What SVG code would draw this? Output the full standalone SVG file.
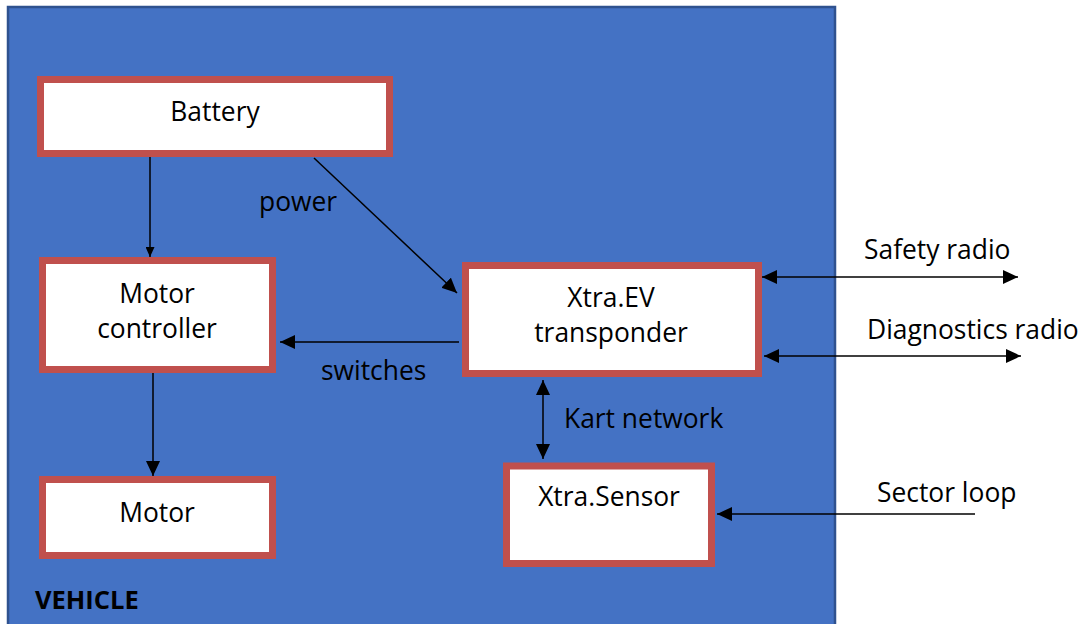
<svg xmlns="http://www.w3.org/2000/svg" width="1083" height="624" viewBox="0 0 1083 624">
<style>
.box{fill:#ffffff;stroke:#c0504d;stroke-width:7}
.t{font-family:"Open Sans","Noto Sans",sans-serif;font-size:26.4px;fill:#000}
.c{text-anchor:middle}
.ln{stroke:#000;stroke-width:1.5;fill:none}
</style>
<defs>
<marker id="ah" markerUnits="userSpaceOnUse" markerWidth="16" markerHeight="14" refX="15" refY="7" orient="auto-start-reverse">
<path d="M0,0 L15,7 L0,14 Z" fill="#000"/>
</marker>
<marker id="ahs" markerUnits="userSpaceOnUse" markerWidth="11" markerHeight="9" refX="10" refY="4.5" orient="auto-start-reverse">
<path d="M0,0 L10,4.5 L0,9 Z" fill="#000"/>
</marker>
</defs>
<rect width="1083" height="624" fill="#ffffff"/>
<g id="vehicle">
<rect x="8" y="7" width="827" height="640" fill="#4472c4" stroke="#2f528f" stroke-width="2.5"/>
<text x="35" y="609" class="t" style="font-weight:bold;font-size:25.5px">VEHICLE</text>
</g>
<g id="battery">
<rect class="box" x="40.5" y="79.5" width="349" height="74"/>
<text class="t c" x="215" y="121">Battery</text>
</g>
<g id="motor-controller">
<rect class="box" x="42.5" y="260.5" width="230" height="109"/>
<text class="t c" x="157" y="303">Motor</text>
<text class="t c" x="157" y="338">controller</text>
</g>
<g id="motor">
<rect class="box" x="42.5" y="479.5" width="230" height="76"/>
<text class="t c" x="157" y="522">Motor</text>
</g>
<g id="transponder">
<rect class="box" x="465.5" y="265.5" width="293" height="108"/>
<text class="t c" x="611" y="307">Xtra.EV</text>
<text class="t c" x="611" y="342">transponder</text>
</g>
<g id="sensor">
<rect class="box" x="506.5" y="466" width="205" height="97.5"/>
<text class="t c" x="609" y="506">Xtra.Sensor</text>
</g>
<g id="connectors">
<line class="ln" x1="150" y1="157" x2="150" y2="257" marker-end="url(#ahs)"/>
<line class="ln" x1="153" y1="373" x2="153" y2="476" marker-end="url(#ah)"/>
<line class="ln" x1="314" y1="158" x2="457" y2="293" marker-end="url(#ah)"/>
<line class="ln" x1="459" y1="342" x2="280" y2="342" marker-end="url(#ah)"/>
<line class="ln" x1="762" y1="277" x2="1018" y2="277" marker-start="url(#ah)" marker-end="url(#ah)"/>
<line class="ln" x1="764" y1="356" x2="1021" y2="356" marker-start="url(#ah)" marker-end="url(#ah)"/>
<line class="ln" x1="543" y1="380" x2="543" y2="459" marker-start="url(#ah)" marker-end="url(#ah)"/>
<line class="ln" x1="975" y1="514" x2="717" y2="514" marker-end="url(#ah)"/>
</g>
<g id="labels">
<text class="t" x="259" y="211">power</text>
<text class="t" x="321" y="380">switches</text>
<text class="t" x="564" y="428">Kart network</text>
<text class="t" x="864" y="259">Safety radio</text>
<text class="t" x="867" y="339">Diagnostics radio</text>
<text class="t" x="877" y="502">Sector loop</text>
</g>
</svg>
